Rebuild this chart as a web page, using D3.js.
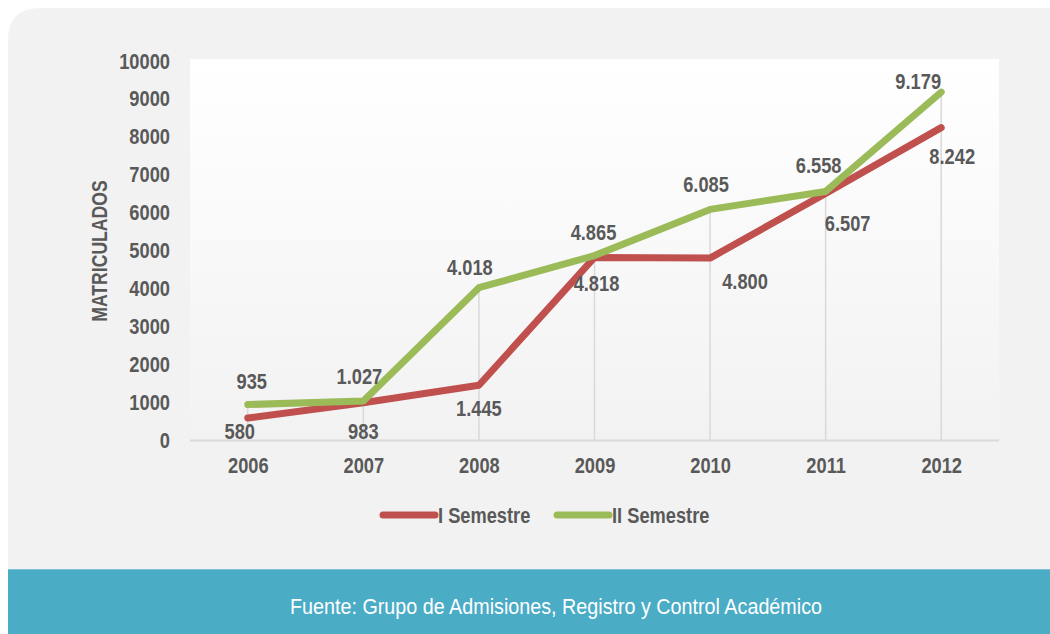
<!DOCTYPE html>
<html>
<head>
<meta charset="utf-8">
<script src="https://cdn.jsdelivr.net/npm/d3@7"></script>
<style>
  html, body { margin: 0; padding: 0; background: #ffffff; }
  svg { display: block; }
  text { font-family: "Liberation Sans", Arial, sans-serif; }
</style>
</head>
<body>
<svg id="chart" width="1050" height="634"></svg>
<script>
// Enrolment per semester, 2006-2012
const years = ["2006", "2007", "2008", "2009", "2010", "2011", "2012"];
const semester1 = [580, 983, 1445, 4818, 4800, 6507, 8242];
const semester2 = [935, 1027, 4018, 4865, 6085, 6558, 9179];
const seriesNames = ["I Semestre", "II Semestre"];
const yTicks = [0, 1000, 2000, 3000, 4000, 5000, 6000, 7000, 8000, 9000, 10000];
const yTitle = "MATRICULADOS";
const sourceNote = "Fuente: Grupo de Admisiones, Registro y Control Académico";

const W = 1050, H = 634;
const plot = { left: 190, right: 999, top: 59, bottom: 440 };
const colors = ["#c0504d", "#9bbb59"];
const textColor = "#595959";
const labelSize = "22px";
const squeeze = 0.83;

// squeeze text horizontally to get a condensed face from the regular one
function narrow(sel, k) {
  sel.each(function () {
    const L = this.getComputedTextLength();
    d3.select(this).attr("textLength", L * k).attr("lengthAdjust", "spacingAndGlyphs");
  });
}

const svg = d3.select("#chart");

// gradient for the plot area (white at top fading to light grey)
const defs = svg.append("defs");
const grad = defs.append("linearGradient").attr("id", "plotFill")
  .attr("x1", 0).attr("y1", 0).attr("x2", 0).attr("y2", 1);
grad.append("stop").attr("offset", "0%").attr("stop-color", "#ffffff");
grad.append("stop").attr("offset", "100%").attr("stop-color", "#f2f2f2");

// outer panel with rounded top-left corner
const r = 32, px = 8, py = 8;
svg.append("path")
  .attr("d", `M${px},${H} L${px},${py + r} Q${px},${py} ${px + r},${py} L${W},${py} L${W},${H} Z`)
  .attr("fill", "#f2f2f2");

// source banner
svg.append("rect").attr("x", px).attr("y", 569).attr("width", W - px).attr("height", H - 569)
  .attr("fill", "#4bacc6");
svg.append("line").attr("x1", px).attr("x2", W).attr("y1", 569.5).attr("y2", 569.5)
  .attr("stroke", "#7fc3d6").attr("stroke-width", 1);
const note = svg.append("text").attr("x", 556).attr("y", 614)
  .attr("text-anchor", "middle").attr("fill", "#ffffff")
  .style("font-size", "22.5px")
  .text(sourceNote);
note.attr("textLength", 532).attr("lengthAdjust", "spacingAndGlyphs");

// plot area
svg.append("rect").attr("x", plot.left).attr("y", plot.top)
  .attr("width", plot.right - plot.left).attr("height", plot.bottom - plot.top)
  .attr("fill", "url(#plotFill)");

const x = d3.scalePoint().domain(years).range([plot.left, plot.right]).padding(0.5);
const y = d3.scaleLinear().domain([0, 10000]).range([plot.bottom, plot.top + 2]);

// drop lines from the highest point of each year to the axis
const maxima = years.map((yr, i) => Math.max(semester1[i], semester2[i]));
svg.append("g").selectAll("line").data(years).join("line")
  .attr("x1", d => x(d)).attr("x2", d => x(d))
  .attr("y1", (d, i) => y(maxima[i])).attr("y2", plot.bottom)
  .attr("stroke", "#d9d9d9").attr("stroke-width", 1.5);

// x axis
const xAxis = svg.append("g").attr("transform", `translate(0,${plot.bottom})`)
  .call(d3.axisBottom(x).tickSize(0).tickPadding(18));
xAxis.select(".domain").attr("d", `M${plot.left},0.5H${plot.right}`)
  .attr("stroke", "#d9d9d9").attr("stroke-width", 2);
xAxis.selectAll("text").attr("fill", textColor).style("font-size", labelSize).style("font-weight", "bold")
  .attr("dy", "0.68em").call(narrow, squeeze);

// y axis (labels only)
const yAxis = svg.append("g").attr("transform", `translate(${plot.left},0)`)
  .call(d3.axisLeft(y).tickValues(yTicks).tickSize(0).tickPadding(20).tickFormat(d3.format("d")));
yAxis.select(".domain").remove();
yAxis.selectAll("text").attr("fill", textColor).style("font-size", labelSize).style("font-weight", "bold")
  .call(narrow, squeeze);

svg.append("text")
  .attr("transform", `translate(107,251) rotate(-90)`)
  .attr("text-anchor", "middle").attr("fill", textColor)
  .style("font-size", labelSize).style("font-weight", "bold")
  .text(yTitle).call(narrow, 0.8);

// lines
const series = [semester1, semester2];
const line = d3.line().x((d, i) => x(years[i])).y(d => y(d));
series.forEach((vals, s) => {
  svg.append("path").datum(vals)
    .attr("d", line)
    .attr("fill", "none").attr("stroke", colors[s]).attr("stroke-width", 7)
    .attr("stroke-linejoin", "round").attr("stroke-linecap", "round");
});

// data labels (Spanish thousand separator)
const fmt = d3.formatLocale({ decimal: ",", thousands: ".", grouping: [3], currency: ["", ""] }).format(",d");
const labelOffsets = [
  [[-8, 13], [0, 29], [0, 23], [2, 26], [35, 23], [22, 30], [11, 29]],
  [[4, -23], [-4, -25], [-9, -20], [-1, -23], [-4, -25], [-7, -26], [-23, -11]]
];
series.forEach((vals, s) => {
  svg.append("g").selectAll("text").data(vals).join("text")
    .attr("x", (d, i) => x(years[i]) + labelOffsets[s][i][0])
    .attr("y", (d, i) => y(d) + labelOffsets[s][i][1])
    .attr("dy", "0.35em")
    .attr("text-anchor", "middle").attr("fill", textColor)
    .style("font-size", labelSize).style("font-weight", "bold")
    .text(d => fmt(d))
    .call(narrow, squeeze);
});

// legend
const legendItems = [{ x1: 383, x2: 435 }, { x1: 557, x2: 609 }];
legendItems.forEach((it, s) => {
  svg.append("line").attr("x1", it.x1).attr("x2", it.x2).attr("y1", 515).attr("y2", 515)
    .attr("stroke", colors[s]).attr("stroke-width", 7).attr("stroke-linecap", "round");
  svg.append("text").attr("x", it.x2 + 3).attr("y", 515).attr("dy", "0.35em")
    .attr("fill", textColor).style("font-size", labelSize).style("font-weight", "bold")
    .text(seriesNames[s]).call(narrow, squeeze);
});
</script>
</body>
</html>
